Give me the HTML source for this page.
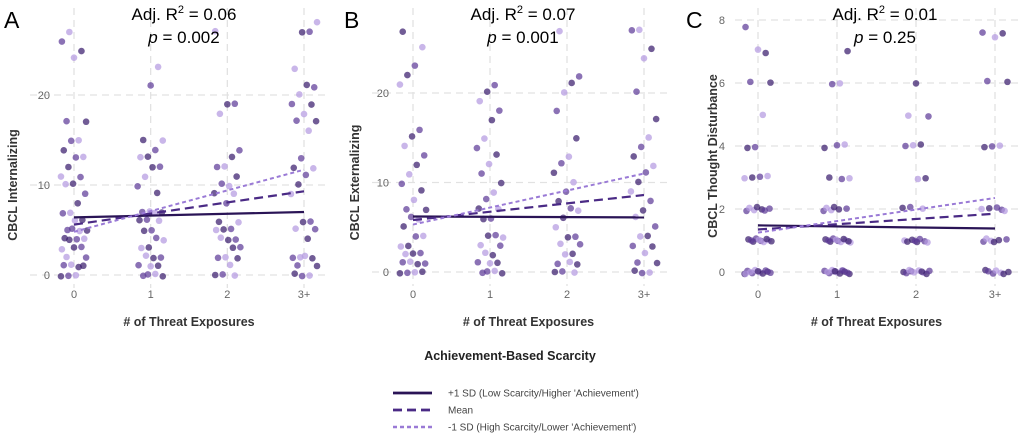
<!DOCTYPE html>
<html><head><meta charset="utf-8"><style>
body{margin:0;background:#fff;width:1022px;height:433px;overflow:hidden;font-family:"Liberation Sans",sans-serif}
svg{display:block}
</style></head><body>
<svg id="chart" width="1022" height="433" xmlns="http://www.w3.org/2000/svg"></svg>
<script>
const categories = ["0","1","2","3+"];
const aTicks = [0,10,20];
const bTicks = [0,10,20];
const cTicks = [0,2,4,6,8];
const aPoints = [
 [0,0,0,1,1,1,1,2,2,3,3,3,4,4,4,4,5,5,5,5,6,6,7,7,8,9,10,10,11,11,12,13,13,14,15,15,17,17,24,25,26,27],
 [0,0,0,0,1,1,1,2,2,2,3,3,4,4,5,5,6,6,6,7,7,7,7,9,10,11,12,12,13,13,14,15,15,21,23],
 [0,0,0,1,2,2,2,3,3,4,4,4,5,5,5,6,6,8,9,9,10,10,11,12,12,13,14,18,19,19,27],
 [0,0,0,1,1,2,2,2,2,4,5,5,6,6,9,10,11,12,12,13,16,17,17,18,19,19,20,21,21,23,27,27,28]];
const bPoints = [
 [0,0,0,0,1,1,1,1,2,2,2,3,3,4,4,5,6,6,7,7,8,9,10,11,12,13,14,15,16,21,22,23,25,27],
 [0,0,0,0,1,1,1,2,2,3,3,4,4,4,6,6,7,7,8,9,10,11,12,13,14,15,17,18,19,20,21],
 [0,0,0,1,1,1,2,2,3,3,4,4,5,6,7,7,8,9,10,11,12,13,15,18,20,21,22,27],
 [0,0,0,1,1,2,3,3,4,4,5,6,7,8,9,10,11,12,13,14,15,17,20,24,25,27,27]];
const cPoints = [
 [0,0,0,0,0,0,0,0,0,0,0,0,1,1,1,1,1,1,1,1,1,1,2,2,2,2,2,2,2,3,3,3,3,4,4,5,6,6,7,7,7.8],
 [0,0,0,0,0,0,0,0,0,0,0,0,0,1,1,1,1,1,1,1,1,1,1,1,2,2,2,2,2,2,3,3,3,4,4,4,6,6,7],
 [0,0,0,0,0,0,0,0,0,0,1,1,1,1,1,1,1,1,2,2,2,3,3,4,4,4,5,5,6],
 [0,0,0,0,0,0,0,1,1,1,1,1,1,2,2,2,2,2,4,4,4,6,6,7.5,7.6,7.6]];
const aLines = [[6.4,7.0],[5.6,9.3],[4.8,11.7]];
const bLines = [[6.2,6.1],[5.8,8.6],[5.3,11.0]];
const cLines = [[1.48,1.38],[1.35,1.85],[1.25,2.35]];
const legendLabels = ["+1 SD (Low Scarcity/Higher 'Achievement')","Mean","-1 SD (High Scarcity/Lower 'Achievement')"];

const NS="http://www.w3.org/2000/svg";
const svg=document.getElementById('chart');
function mk(tag,attrs,parent){const e=document.createElementNS(NS,tag);for(const k in attrs)e.setAttribute(k,attrs[k]);(parent||svg).appendChild(e);return e;}
const shades=["#3a1d6e","#5e3c99","#b49ae0"];
const lineStyles=[{c:"#2a1456",d:"",w:2.2},{c:"#4a2a85",d:"9,5",w:2.2},{c:"#9a7ad6",d:"4,3",w:2}];

const panels=[
 {letter:"A",r2:"0.06",p:"0.002",x0:74,x3:304,y0:275,ymax:20,yTop:95,ticks:aTicks,pts:aPoints,lines:aLines,ytitle:"CBCL Internalizing",left:30,right:330,top:8,bottom:288,ylabX:50,titleX:184,letterX:4},
 {letter:"B",r2:"0.07",p:"0.001",x0:413,x3:644,y0:272,ymax:20,yTop:93,ticks:bTicks,pts:bPoints,lines:bLines,ytitle:"CBCL Externalizing",left:372,right:670,top:8,bottom:286,ylabX:389,titleX:523,letterX:344},
 {letter:"C",r2:"0.01",p:"0.25",x0:758,x3:995,y0:272,ymax:8,yTop:20,ticks:cTicks,pts:cPoints,lines:cLines,ytitle:"CBCL Thought Disturbance",left:735,right:1018,top:8,bottom:286,ylabX:725,titleX:885,letterX:686}
];
panels.forEach((P,pi)=>{
 const g=mk('g',{});
 
 
 const xs=i=>P.x0+(P.x3-P.x0)*i/3;
 const ys=v=>P.y0-(P.y0-P.yTop)*v/P.ymax;
 P.ticks.forEach(t=>{
  const l=mk('line',{x1:P.left,x2:P.right,y1:ys(t),y2:ys(t),stroke:"#e2e2e2","stroke-width":1.3,"stroke-dasharray":"7,5"},g);
  
  const tx=mk('text',{x:P.ylabX,y:ys(t)+4,"text-anchor":"end","font-size":11,fill:"#666"},g);tx.textContent=t;
  
 });
 categories.forEach((c,i)=>{
  const l=mk('line',{x1:xs(i),x2:xs(i),y1:P.top,y2:P.bottom,stroke:"#e2e2e2","stroke-width":1.3,"stroke-dasharray":"7,5"},g);
  
  const tx=mk('text',{x:xs(i),y:298,"text-anchor":"middle","font-size":11,fill:"#666"},g);tx.textContent=c;
  
 });
 P.pts.forEach((arr,ci)=>{
  arr.forEach((v,k)=>{
   const j=(((k*37+ci*11)%29)/28-0.5)*0.34;
   const vj=(((k*13+ci*7)%11)/10-0.5)*0.3*(P.ymax/20);
   const d=mk('circle',{cx:xs(ci+j),cy:ys(v+vj),r:3.3,fill:shades[(k+ci)%3],"fill-opacity":0.72},g);
   
  });
 });
 P.lines.forEach((ln,li)=>{
  const s=lineStyles[li];
  const l=mk('line',{x1:xs(0),y1:ys(ln[0]),x2:xs(3),y2:ys(ln[1]),stroke:s.c,"stroke-width":s.w,"stroke-dasharray":s.d},g);
  
 });
 const L=mk('text',{x:P.letterX,y:28,"font-size":23,fill:"#000"},g);L.textContent=P.letter;
 
 const t1=mk('text',{x:P.titleX,y:20,"text-anchor":"middle","font-size":17,fill:"#000"},g);
 t1.innerHTML='Adj. R<tspan font-size="11" dy="-7">2</tspan><tspan dy="7"> = '+P.r2+'</tspan>';
 
 const t2=mk('text',{x:P.titleX,y:43,"text-anchor":"middle","font-size":17,fill:"#000"},g);
 t2.innerHTML='<tspan font-style="italic">p</tspan> = '+P.p;
 
 const xt=mk('text',{x:(P.x0+P.x3)/2,y:326,"text-anchor":"middle","font-size":12.5,"font-weight":"bold",fill:"#333"},g);
 xt.textContent="# of Threat Exposures";
 
 const cy=(P.y0+P.yTop)/2+(pi==2?10:0);
 const yt=mk('text',{x:0,y:0,transform:`translate(${P.left-13+(pi==2?-5:0)},${cy}) rotate(-90)`,"text-anchor":"middle","font-size":12.5,"font-weight":"bold",fill:"#333"},g);
 yt.textContent=P.ytitle;
 
});
const lg=mk('g',{});

const lt=mk('text',{x:510,y:360,"text-anchor":"middle","font-size":12.5,"font-weight":"bold",fill:"#222"},lg);
lt.textContent="Achievement-Based Scarcity";

legendLabels.forEach((lab,i)=>{
 const s=lineStyles[i];const y=393+i*17;
 const l=mk('line',{x1:393,x2:432,y1:y,y2:y,stroke:s.c,"stroke-width":s.w+0.5,"stroke-dasharray":s.d},lg);
 
 const t=mk('text',{x:448,y:y+3.5,"font-size":10,fill:"#444"},lg);t.textContent=lab;
 
});
</script>
</body></html>
